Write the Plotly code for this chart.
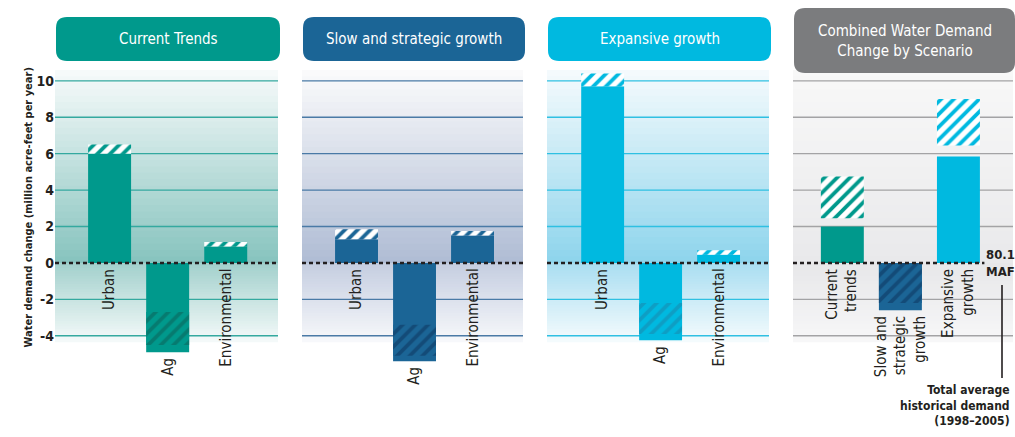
import plotly.graph_objects as go

W, H = 1015, 437
MT, MB = 69, 73

SECTORS = ["Urban", "Ag", "Environmental"]
PANELS = ["Current Trends", "Slow and strategic growth", "Expansive growth"]

# end of the solid bar, then the two ends of the hatched range
CT_SOLID = [6.0, -4.9, 0.9]
CT_HATCH_LO = [6.0, -2.7, 0.9]
CT_HATCH_HI = [6.5, -4.5, 1.15]

SSG_SOLID = [1.3, -5.4, 1.5]
SSG_HATCH_LO = [1.3, -3.4, 1.5]
SSG_HATCH_HI = [1.85, -5.1, 1.75]

EG_SOLID = [9.7, -4.25, 0.45]
EG_HATCH_LO = [9.7, -2.2, 0.45]
EG_HATCH_HI = [10.4, -3.9, 0.7]

COMBINED_TITLE = "Combined Water Demand<br>Change by Scenario"
COMBINED = ["Current<br>trends", "Slow and<br>strategic<br>growth", "Expansive<br>growth"]
COMB_SOLID = [2.0, -2.6, 5.85]
COMB_HATCH_LO = [2.45, 0.0, 6.45]
COMB_HATCH_HI = [4.75, -2.2, 9.0]

TICKS = [-4, -2, 0, 2, 4, 6, 8, 10]
TICK_TEXT = ["-4", "-2", "0", "2", "4", "6", "8", "10"]

FONT = "Liberation Sans Narrow, DejaVu Sans Condensed, Roboto, sans-serif"
INK = "#231f20"

TEAL, BLUE, CYAN, GRAY = "#00998c", "#1b6596", "#00b9e0", "#7b7c7e"


def px_x(px):
    return px / W


def px_y(py):
    return (H - MB - py) / (H - MT - MB)


def mix(c1, c2, t):
    a = [int(c1[i:i + 2], 16) for i in (1, 3, 5)]
    b = [int(c2[i:i + 2], 16) for i in (1, 3, 5)]
    return "#" + "".join("%02x" % round(a[k] + (b[k] - a[k]) * t) for k in range(3))


panels = [
    dict(title=PANELS[0], labels=SECTORS, solid=CT_SOLID, lo=CT_HATCH_LO, hi=CT_HATCH_HI,
         colors=[TEAL] * 3, dark=["#067b70"] * 3, box=TEAL, grid="#34a99f",
         bg=("#f8fbfb", "#86c3be", "#a2d0cc", "#f5fafa"), dom=(55, 278), xr=(-0.94, 2.9)),
    dict(title=PANELS[1], labels=SECTORS, solid=SSG_SOLID, lo=SSG_HATCH_LO, hi=SSG_HATCH_HI,
         colors=[BLUE] * 3, dark=["#134b78"] * 3, box=BLUE, grid="#4a7aa6",
         bg=("#fbfbfc", "#afbcd4", "#c4cde0", "#f8f9fb"), dom=(302, 523), xr=(-0.94, 2.87)),
    dict(title=PANELS[2], labels=SECTORS, solid=EG_SOLID, lo=EG_HATCH_LO, hi=EG_HATCH_HI,
         colors=[CYAN] * 3, dark=["#0e9ec4"] * 3, box=CYAN, grid="#2fc0e2",
         bg=("#f6fbfd", "#8dd4ec", "#a9def1", "#f5fbfd"), dom=(547, 769), xr=(-0.96, 2.87)),
    dict(title=COMBINED_TITLE, labels=COMBINED, solid=COMB_SOLID, lo=COMB_HATCH_LO, hi=COMB_HATCH_HI,
         colors=[TEAL, BLUE, CYAN], dark=["#067b70", "#134b78", "#0e9ec4"], box=GRAY, grid="#a3a3a5",
         bg=("#f8f8f8", "#e9e9eb", "#e7e7e9", "#f7f7f8"), dom=(793, 1013), xr=(-0.85, 2.94)),
]

fig = go.Figure()
shapes = []
annotations = []
BG_TOP, BG_BOT = 10.6, -4.35
N = 30
EPS = 0.06

for i, p in enumerate(panels, start=1):
    xa = "x" if i == 1 else "x%d" % i
    ya = "y" if i == 1 else "y%d" % i
    xs = list(range(len(p["labels"])))

    # gradient background
    top_c, zero_c, below_c, bot_c = p["bg"]
    for k in range(N):
        y0 = BG_TOP * k / N
        y1 = min(BG_TOP, BG_TOP * (k + 1) / N + EPS)
        shapes.append(dict(type="rect", xref=xa + " domain", yref=ya, x0=0, x1=1, y0=y0, y1=y1,
                           fillcolor=mix(zero_c, top_c, (k + 0.5) / N), line_width=0, layer="below"))
    for k in range(N):
        y0 = BG_BOT * k / N
        y1 = max(BG_BOT, BG_BOT * (k + 1) / N - EPS)
        shapes.append(dict(type="rect", xref=xa + " domain", yref=ya, x0=0, x1=1, y0=y1, y1=y0,
                           fillcolor=mix(below_c, bot_c, (k + 0.5) / N), line_width=0, layer="below"))
    for t in TICKS:
        if t == 0:
            continue
        shapes.append(dict(type="line", xref=xa + " domain", yref=ya, x0=0, x1=1, y0=t, y1=t,
                           line=dict(color=p["grid"], width=1.3), layer="below"))

    # solid bars
    fig.add_trace(go.Bar(x=xs, y=p["solid"], base=[0] * len(xs), width=0.74,
                         marker=dict(color=p["colors"], line_width=0),
                         xaxis=xa, yaxis=ya, hoverinfo="skip", showlegend=False))
    # hatched ranges
    for j in xs:
        lo, hi, s = p["lo"][j], p["hi"][j], p["solid"][j]
        inside = min(lo, hi) >= min(0, s) - 1e-9 and max(lo, hi) <= max(0, s) + 1e-9
        if inside:
            fg, bgc = p["dark"][j], p["colors"][j]
        else:
            fg, bgc = p["colors"][j], "#ffffff"
        fig.add_trace(go.Bar(x=[j], y=[hi - lo], base=[lo], width=0.74,
                             marker=dict(color=bgc, line_width=0,
                                         pattern=dict(shape="/", fgcolor=fg, bgcolor=bgc,
                                                      size=9, solidity=0.42, fillmode="replace")),
                             xaxis=xa, yaxis=ya, hoverinfo="skip", showlegend=False))

    # dotted zero line
    shapes.append(dict(type="line", xref=xa + " domain", yref=ya, x0=0, x1=0.87 if i == 4 else 1,
                       y0=0, y1=0, line=dict(color=INK, width=2.5, dash="4px,3px"), layer="above"))

    # category labels below the bars
    for j, lab in enumerate(p["labels"]):
        yb = min(0, p["solid"][j], p["lo"][j], p["hi"][j])
        annotations.append(dict(x=j, y=yb, xref=xa, yref=ya, text=lab, textangle=-90,
                                xanchor="center", yanchor="top", yshift=-4, showarrow=False,
                                align="right", font=dict(family=FONT, size=15, color=INK)))

    # title box
    x0, x1 = px_x(p["dom"][0] + 1), px_x(p["dom"][1] + 2)
    if i == 4:
        y0, y1 = px_y(73), px_y(8)
    else:
        y0, y1 = px_y(61), px_y(17)
    rx, ry = px_x(11), 11 / (H - MT - MB)
    path = ("M %f,%f L %f,%f Q %f,%f %f,%f L %f,%f Q %f,%f %f,%f L %f,%f Q %f,%f %f,%f "
            "L %f,%f Q %f,%f %f,%f Z") % (
        x0 + rx, y0, x1 - rx, y0, x1, y0, x1, y0 + ry, x1, y1 - ry, x1, y1, x1 - rx, y1,
        x0 + rx, y1, x0, y1, x0, y1 - ry, x0, y0 + ry, x0, y0, x0 + rx, y0)
    shapes.append(dict(type="path", xref="paper", yref="paper", path=path,
                       fillcolor=p["box"], line_width=0))
    annotations.append(dict(x=(x0 + x1) / 2, y=(y0 + y1) / 2, xref="paper", yref="paper",
                            text=p["title"], showarrow=False, xanchor="center", yanchor="middle",
                            font=dict(family=FONT, size=15, color="white")))

    fig.update_layout(**{
        ("xaxis" if i == 1 else "xaxis%d" % i): dict(
            domain=[px_x(p["dom"][0]), px_x(p["dom"][1])], range=list(p["xr"]),
            showgrid=False, zeroline=False, showticklabels=False, fixedrange=True, anchor=ya),
        ("yaxis" if i == 1 else "yaxis%d" % i): dict(
            range=[-5.55, 10.65], showgrid=False, zeroline=False, anchor=xa,
            tickvals=TICKS, ticktext=TICK_TEXT, showticklabels=(i == 1), ticks="",
            tickfont=dict(family=FONT, size=14, color=INK, weight="bold")),
    })

# y-axis title
annotations.append(dict(x=px_x(19), y=px_y(208), xref="paper", yref="paper",
                        text="Water demand change (million acre-feet per year)", textangle=-90,
                        showarrow=False, font=dict(family=FONT, size=11, color=INK, weight="bold")))

# historical demand reference
annotations.append(dict(x=px_x(984), y=0, xref="paper", yref="y4", text="80.1<br>MAF",
                        xanchor="left", yanchor="middle", align="left", showarrow=False,
                        font=dict(family=FONT, size=13, color=INK, weight="bold")))
shapes.append(dict(type="line", xref="paper", yref="paper", x0=px_x(1002), x1=px_x(1002),
                   y0=px_y(285), y1=px_y(378), line=dict(color=INK, width=1.6)))
annotations.append(dict(x=px_x(1012), y=px_y(381), xref="paper", yref="paper",
                        text="Total average<br>historical demand<br>(1998\u20132005)",
                        xanchor="right", yanchor="top", align="right", showarrow=False,
                        font=dict(family=FONT, size=12, color=INK, weight="bold")))

fig.update_layout(
    width=W, height=H,
    margin=dict(l=0, r=0, t=MT, b=MB),
    barmode="overlay",
    paper_bgcolor="white",
    plot_bgcolor="rgba(0,0,0,0)",
    shapes=shapes,
    annotations=annotations,
    font=dict(family=FONT),
)

fig.write_html("out.html", config={"displayModeBar": False},
               post_script="document.body.style.margin='0px';")
